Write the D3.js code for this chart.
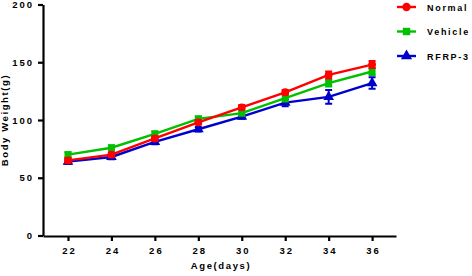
<!DOCTYPE html>
<html>
<head>
<meta charset="utf-8">
<script src="https://cdn.jsdelivr.net/npm/d3@7"></script>
<style>
  body { margin: 0; background: #fff; }
  text { font-family: "Liberation Sans", Arial, sans-serif; font-weight: bold; }
</style>
</head>
<body>
<div id="wrapper"></div>
<script>
// values
const days = [22, 24, 26, 28, 30, 32, 34, 36]
const normal = [65, 70, 84, 98, 111, 124, 139, 148]
const vehicle = [70, 76, 88, 101, 106, 119, 132, 142]
const rfrp = [64, 68, 81, 92, 103, 115, 120, 132]
const normalErr = [2, 2, 2, 2, 2, 2, 3, 3]
const vehicleErr = [2, 2, 2, 2, 2, 3, 3, 3]
const rfrpErr = [2, 2, 2, 2, 2, 3, 6, 5]
const yTicks = [0, 50, 100, 150, 200]

const series = [
  { name: "RFRP-3", values: rfrp, err: rfrpErr, color: "#0000cc", shape: d3.symbolTriangle },
  { name: "Vehicle", values: vehicle, err: vehicleErr, color: "#00c000", shape: d3.symbolSquare },
  { name: "Normal", values: normal, err: normalErr, color: "#ff0000", shape: d3.symbolCircle },
]

const dimensions = {
  width: 472,
  height: 276,
  margin: { top: 4, right: 76, bottom: 40, left: 43 },
}
dimensions.boundedWidth = dimensions.width - dimensions.margin.left - dimensions.margin.right
dimensions.boundedHeight = dimensions.height - dimensions.margin.top - dimensions.margin.bottom

const wrapper = d3.select("#wrapper").append("svg")
  .attr("width", dimensions.width)
  .attr("height", dimensions.height)

const bounds = wrapper.append("g")
  .attr("transform", `translate(${dimensions.margin.left},${dimensions.margin.top})`)

const xScale = d3.scaleLinear()
  .domain([20.85, 37.1])
  .range([0, dimensions.boundedWidth])

const yScale = d3.scaleLinear()
  .domain([0, 200])
  .range([dimensions.boundedHeight - 0.5, 0.5])

// axes
const xAxis = bounds.append("g")
  .attr("transform", `translate(0,${dimensions.boundedHeight})`)
  .call(d3.axisBottom(xScale).tickValues(days).tickSize(5).tickPadding(6).tickSizeOuter(0))
const yAxis = bounds.append("g")
  .call(d3.axisLeft(yScale).tickValues(yTicks).tickSize(5).tickPadding(4).tickSizeOuter(0))

for (const ax of [xAxis, yAxis]) {
  ax.select(".domain").attr("stroke-width", 2.2)
  ax.selectAll(".tick line").attr("stroke-width", 2.2)
  ax.selectAll(".tick text")
    .style("font-size", "9.5px")
    .style("letter-spacing", "2px")
    .attr("fill", "#000")
}
xAxis.selectAll(".tick text").attr("dx", "1px")

bounds.append("text")
  .attr("x", 178)
  .attr("y", dimensions.boundedHeight + 33)
  .attr("text-anchor", "middle")
  .style("font-size", "9.5px")
  .style("letter-spacing", "1.6px")
  .text("Age(days)")

bounds.append("text")
  .attr("transform", `translate(${-35},${116}) rotate(-90)`)
  .attr("text-anchor", "middle")
  .style("font-size", "9.5px")
  .style("letter-spacing", "1.6px")
  .text("Body Weight(g)")

// lines, error bars, markers
const line = d3.line()
  .x((d, i) => xScale(days[i]))
  .y(d => yScale(d))

series.forEach(s => {
  const g = bounds.append("g")
  g.append("path")
    .datum(s.values)
    .attr("d", line)
    .attr("fill", "none")
    .attr("stroke", s.color)
    .attr("stroke-width", 2.4)

  g.selectAll(".err")
    .data(s.values)
    .enter().append("path")
    .attr("d", (d, i) => {
      const x = xScale(days[i])
      const y1 = yScale(d + s.err[i])
      const y2 = yScale(d - s.err[i])
      return `M${x},${y1}V${y2}M${x - 3.5},${y1}H${x + 3.5}M${x - 3.5},${y2}H${x + 3.5}`
    })
    .attr("stroke", s.color)
    .attr("stroke-width", 2)

  g.selectAll(".pt")
    .data(s.values)
    .enter().append("path")
    .attr("d", d3.symbol().type(s.shape).size(s.shape === d3.symbolTriangle ? 50 : 48))
    .attr("transform", (d, i) => `translate(${xScale(days[i])},${yScale(d)})`)
    .attr("fill", s.color)
})

// legend
const legendItems = series.slice().reverse()
const legend = wrapper.append("g")
  .attr("transform", "translate(397,7)")
legendItems.forEach((s, i) => {
  const row = legend.append("g").attr("transform", `translate(0,${i * 24.5})`)
  row.append("line")
    .attr("x1", 0).attr("x2", 19)
    .attr("stroke", s.color).attr("stroke-width", 2.4)
  row.append("path")
    .attr("d", d3.symbol().type(s.shape).size(55))
    .attr("transform", "translate(9.5,0)")
    .attr("fill", s.color)
  row.append("text")
    .attr("x", 30)
    .attr("y", 3.5)
    .style("font-size", "9px")
    .style("letter-spacing", "1.7px")
    .text(s.name)
})
</script>
</body>
</html>
